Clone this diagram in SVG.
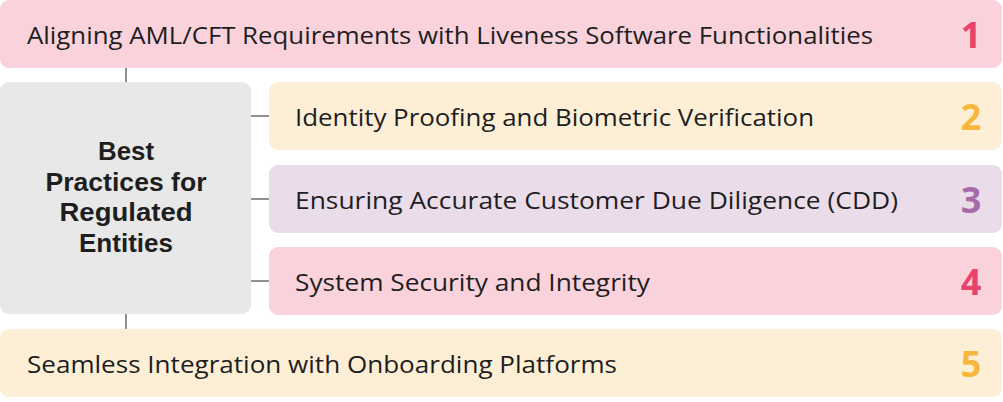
<svg xmlns="http://www.w3.org/2000/svg" width="1003" height="402" viewBox="0 0 1003 402">
<style>
.t{font-family:"Open Sans","Liberation Sans",sans-serif;font-size:24px;fill:#1e1e1e}
.n{font-family:"Open Sans","Liberation Sans",sans-serif;font-size:36px;font-weight:700;text-anchor:middle}
.c{font-family:"Liberation Sans",Arial,sans-serif;font-size:25px;font-weight:700;fill:#1e1e1e;text-anchor:middle}
.pk{fill:#fad2dc}.yl{fill:#fdefd6}.pp{fill:#ebdcea}.gy{fill:#e8e8e8}
</style>
<g id="connectors" stroke="#6b6b6b" stroke-width="1.5" fill="none">
<line x1="126" y1="68" x2="126" y2="82"/>
<line x1="126" y1="314" x2="126" y2="329"/>
<line x1="251" y1="116" x2="269" y2="116"/>
<line x1="251" y1="199" x2="269" y2="199"/>
<line x1="251" y1="281" x2="269" y2="281"/>
</g>
<g id="node1">
<rect class="pk" x="0" y="0" width="1002" height="68" rx="9"/>
<text class="t" x="27" y="44" textLength="846" lengthAdjust="spacingAndGlyphs">Aligning AML/CFT Requirements with Liveness Software Functionalities</text>
<text class="n" x="971" y="48" fill="#e8436a">1</text>
</g>
<g id="center">
<rect class="gy" x="0" y="82" width="251" height="232" rx="9"/>
<text class="c" x="126" y="160" textLength="56" lengthAdjust="spacingAndGlyphs">Best</text>
<text class="c" x="126" y="191" textLength="161" lengthAdjust="spacingAndGlyphs">Practices for</text>
<text class="c" x="126" y="221" textLength="133" lengthAdjust="spacingAndGlyphs">Regulated</text>
<text class="c" x="126" y="252" textLength="94" lengthAdjust="spacingAndGlyphs">Entities</text>
</g>
<g id="node2">
<rect class="yl" x="269" y="82" width="733" height="68" rx="9"/>
<text class="t" x="295" y="126" textLength="519" lengthAdjust="spacingAndGlyphs">Identity Proofing and Biometric Verification</text>
<text class="n" x="971" y="130" fill="#f6b73c">2</text>
</g>
<g id="node3">
<rect class="pp" x="269" y="165" width="733" height="68" rx="9"/>
<text class="t" x="295" y="209" textLength="603" lengthAdjust="spacingAndGlyphs">Ensuring Accurate Customer Due Diligence (CDD)</text>
<text class="n" x="971" y="213" fill="#a56ca9">3</text>
</g>
<g id="node4">
<rect class="pk" x="269" y="247" width="733" height="68" rx="9"/>
<text class="t" x="295" y="291" textLength="355" lengthAdjust="spacingAndGlyphs">System Security and Integrity</text>
<text class="n" x="971" y="295" fill="#e8436a">4</text>
</g>
<g id="node5">
<rect class="yl" x="0" y="329" width="1002" height="68" rx="9"/>
<text class="t" x="27" y="373" textLength="590" lengthAdjust="spacingAndGlyphs">Seamless Integration with Onboarding Platforms</text>
<text class="n" x="971" y="377" fill="#f6b73c">5</text>
</g>
</svg>
